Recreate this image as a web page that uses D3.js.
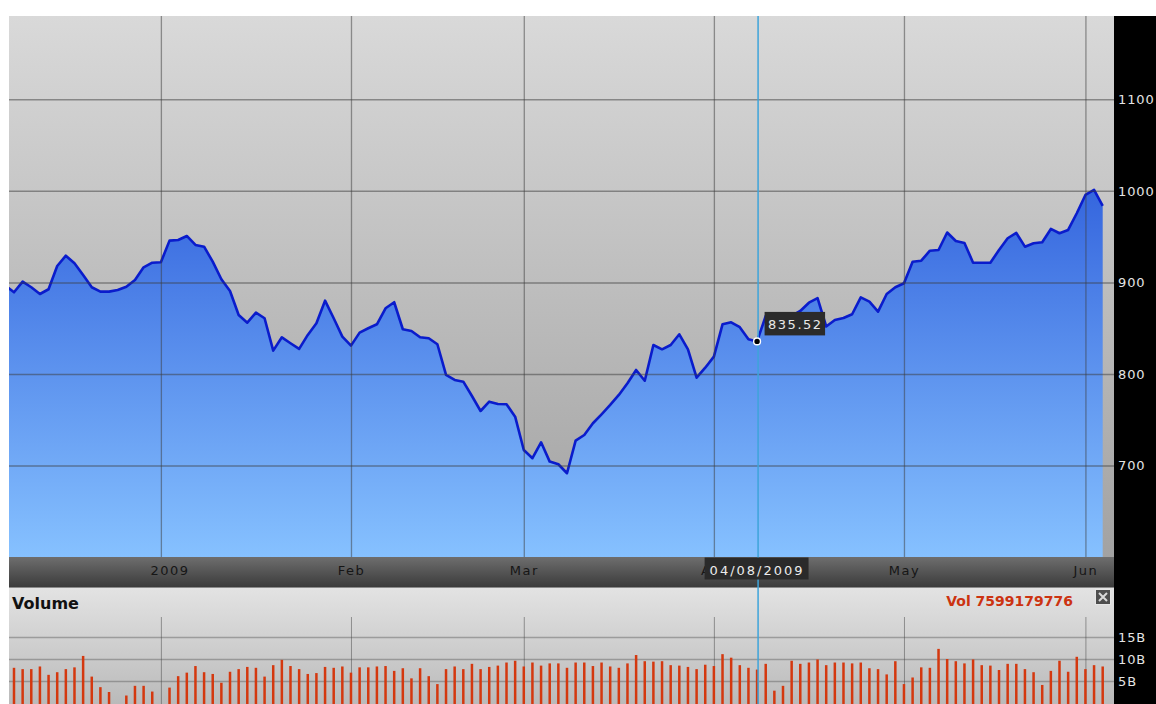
<!DOCTYPE html>
<html>
<head>
<meta charset="utf-8">
<script src="https://cdn.jsdelivr.net/npm/d3@7"></script>
<style>
  html, body { margin: 0; padding: 0; background: #fff; }
  svg { display: block; }
</style>
</head>
<body>
<svg id="chart" width="1156" height="704"></svg>
<script>
// Daily index closes, one per weekday starting 2008-12-08
const closes = [
  896.7, 889.2, 900.8, 894.7, 887.3, 892.5, 917.9, 929.2, 920.9, 908.1,
  894.7, 889.9, 889.9, 891.7, 895.3, 902.6, 916.5, 921.5, 922.0, 945.6,
  946.3, 950.7, 940.9, 939.0, 922.6, 903.4, 890.6, 864.4, 856.0, 866.9,
  860.8, 825.4, 840.0, 833.5, 827.3, 842.6, 855.3, 880.0, 860.8, 840.7,
  830.9, 845.1, 849.9, 854.2, 871.7, 878.3, 848.8, 846.9, 840.0, 839.0,
  832.4, 798.9, 793.4, 791.5, 775.9, 759.5, 769.7, 767.2, 766.9, 753.3,
  716.9, 707.9, 725.3, 704.2, 701.3, 691.5, 727.1, 733.3, 746.1, 755.9,
  766.1, 777.0, 789.8, 804.3, 792.6, 831.6, 826.9, 831.6, 843.3, 826.9,
  795.9, 806.8, 818.9, 854.2, 856.4, 851.0, 837.9, 835.52, 863.3, 861.1,
  864.4, 863.3, 868.8, 877.8, 882.7, 851.8, 858.9, 861.1, 865.2, 883.7,
  878.9, 868.0, 887.3, 894.7, 899.0, 922.6, 923.7, 934.6, 935.4, 954.5,
  945.2, 943.1, 921.5, 921.5, 921.5, 935.4, 948.2, 954.0, 939.0, 942.7,
  943.8, 958.4, 953.7, 957.3, 975.5, 995.5, 1001.0, 983.5
];

// Daily volume in billions of shares (null = market closed)
const volumesB = [
  8.0, 8.0, 7.7, 7.7, 8.3, 6.4, 7.0, 7.7, 8.1, 10.7,
  6.0, 3.6, 2.5, null, 1.7, 3.9, 3.9, 2.6, null, 3.5,
  6.1, 6.9, 8.4, 7.0, 6.6, 4.6, 7.1, 7.7, 8.2, 8.0,
  6.0, 8.6, 9.8, 8.4, 7.7, 6.6, 6.8, 8.2, 8.0, 8.3,
  6.9, 8.1, 8.1, 8.3, 8.4, 7.3, 7.9, 5.6, 7.9, 6.1,
  4.3, 7.7, 8.3, 7.7, 8.9, 7.7, 8.2, 8.5, 9.2, 9.6,
  8.3, 9.2, 8.5, 9.0, 9.0, 8.0, 9.2, 9.2, 8.4, 9.2,
  8.3, 8.0, 9.0, 10.9, 9.5, 9.4, 9.5, 8.6, 8.5, 8.2,
  7.7, 8.7, 8.4, 11.1, 10.3, 8.6, 8.0, 7.599179776, 8.9, 2.8,
  3.9, 9.6, 8.9, 9.2, 9.9, 8.6, 9.2, 9.2, 9.0, 9.2,
  7.9, 7.7, 6.5, 9.5, 4.3, 5.8, 8.1, 8.0, 12.3, 10.0,
  9.5, 9.0, 9.9, 8.6, 8.5, 7.5, 8.9, 8.9, 7.7, 7.0,
  4.1, 7.3, 9.6, 7.1, 10.5, 7.7, 8.6, 8.3
];

const firstDay = "2008-12-08";
const focusDate = "2009-04-08";

const priceTicks = [700, 800, 900, 1000, 1100];
const volumeTicks = [5, 10, 15];
const monthGridDates = ["2009-01-01", "2009-02-02", "2009-03-02", "2009-04-01", "2009-05-01", "2009-06-01"];
const monthLabelDates = ["2009-01-02", "2009-02-02", "2009-03-02", "2009-04-01", "2009-05-01", "2009-06-01"];
const monthLabels = ["2009", "Feb", "Mar", "Apr", "May", "Jun"];

// Weekday calendar for the x axis
const parseDay = d3.utcParse("%Y-%m-%d");
const dayKey = d3.utcFormat("%Y-%m-%d");
const dates = [];
for (let d = parseDay(firstDay); dates.length < closes.length; d = d3.utcDay.offset(d, 1)) {
  const wd = d.getUTCDay();
  if (wd !== 0 && wd !== 6) dates.push(dayKey(d));
}
const rows = dates.map((date, i) => ({ date, close: closes[i], vol: volumesB[i] }));

const FONT = "'DejaVu Sans', Verdana, sans-serif";
const plot = { l: 9, r: 1114, t: 16, b: 557 };
const axisBar = { t: 557, b: 587 };
const vol = { t: 587, top: 615, zero: 703, b: 704 };

const svg = d3.select("#chart");
const defs = svg.append("defs");

function vGrad(id, y1, y2, stops) {
  const g = defs.append("linearGradient").attr("id", id)
    .attr("gradientUnits", "userSpaceOnUse")
    .attr("x1", 0).attr("x2", 0).attr("y1", y1).attr("y2", y2);
  stops.forEach(([o, c]) => g.append("stop").attr("offset", o).attr("stop-color", c));
}
vGrad("bgGrad", plot.t, plot.b, [[0, "#d9d9d9"], [1, "#a2a2a2"]]);
vGrad("areaGrad", 190, plot.b, [[0, "#3566de"], [1, "#86c1ff"]]);
vGrad("axisGrad", axisBar.t, axisBar.b, [[0, "#6e6e6e"], [1, "#3b3b3b"]]);
vGrad("volGrad", vol.t, vol.b, [[0, "#e3e3e3"], [1, "#bababa"]]);

defs.append("clipPath").attr("id", "plotClip").append("rect")
  .attr("x", plot.l).attr("y", plot.t).attr("width", plot.r - plot.l).attr("height", plot.b - plot.t);
defs.append("clipPath").attr("id", "volClip").append("rect")
  .attr("x", plot.l).attr("y", vol.t).attr("width", plot.r - plot.l).attr("height", vol.b - vol.t);

// Scales
const x = d3.scalePoint().domain(dates).range([5.36, 1102.7]);
const y = d3.scaleLinear().domain([600, 1191]).range([plot.b, plot.t]);
const yv = d3.scaleLinear().domain([0, 20]).range([vol.zero, vol.top]);

// ---- Price panel ----
svg.append("rect").attr("x", plot.l).attr("y", plot.t)
  .attr("width", plot.r - plot.l).attr("height", plot.b - plot.t).attr("fill", "url(#bgGrad)");

const priceG = svg.append("g").attr("clip-path", "url(#plotClip)");
priceG.append("path").datum(rows)
  .attr("fill", "url(#areaGrad)")
  .attr("d", d3.area().x(d => x(d.date)).y0(plot.b).y1(d => y(d.close)));

// grid
const gridColor = "rgba(60,60,60,0.5)";
const hGrid = svg.append("g").attr("transform", `translate(${plot.l},0)`)
  .call(d3.axisLeft(y).tickValues(priceTicks).tickSize(-(plot.r - plot.l)).tickFormat(""));
hGrid.select(".domain").remove();
hGrid.selectAll("line").attr("stroke", gridColor).attr("stroke-width", 1.5);

const vGrid = svg.append("g").attr("transform", `translate(0,${plot.b})`)
  .call(d3.axisBottom(x).tickValues(monthGridDates).tickSize(-(plot.b - plot.t)).tickFormat(""));
vGrid.select(".domain").remove();
vGrid.selectAll("line").attr("stroke", gridColor).attr("stroke-width", 1.3);

priceG.append("path").datum(rows)
  .attr("fill", "none").attr("stroke", "#0a1ccc").attr("stroke-width", 2.6)
  .attr("stroke-linejoin", "round")
  .attr("d", d3.line().x(d => x(d.date)).y(d => y(d.close)));

// ---- Date axis bar ----
svg.append("rect").attr("x", plot.l).attr("y", axisBar.t)
  .attr("width", plot.r - plot.l).attr("height", axisBar.b - axisBar.t).attr("fill", "url(#axisGrad)");
const xAxis = svg.append("g").attr("transform", `translate(0,${axisBar.t})`)
  .call(d3.axisBottom(x).tickValues(monthLabelDates).tickSize(0)
    .tickFormat((d, i) => monthLabels[i]));
xAxis.select(".domain").remove();
xAxis.selectAll("text")
  .attr("y", 13).attr("dy", "0.35em")
  .attr("fill", "#161616").style("font-family", FONT).style("font-size", "13px")
  .style("letter-spacing", "1.5px");

// ---- Volume panel ----
svg.append("rect").attr("x", plot.l).attr("y", vol.t)
  .attr("width", plot.r - plot.l).attr("height", vol.b - vol.t).attr("fill", "url(#volGrad)");
svg.append("line").attr("x1", plot.l).attr("x2", plot.r).attr("y1", vol.t + 0.5).attr("y2", vol.t + 0.5)
  .attr("stroke", "#8a8a8a").attr("stroke-width", 1);

const vhGrid = svg.append("g").attr("transform", `translate(${plot.l},0)`)
  .call(d3.axisLeft(yv).tickValues(volumeTicks).tickSize(-(plot.r - plot.l)).tickFormat(""));
vhGrid.select(".domain").remove();
vhGrid.selectAll("line").attr("stroke", "rgba(90,90,90,0.45)").attr("stroke-width", 1.5);

const vvGrid = svg.append("g").attr("transform", `translate(0,${vol.b})`)
  .call(d3.axisBottom(x).tickValues(monthGridDates).tickSize(-(vol.b - 617)).tickFormat(""));
vvGrid.select(".domain").remove();
vvGrid.selectAll("line").attr("stroke", "rgba(70,70,70,0.5)").attr("stroke-width", 1);

svg.append("g").attr("clip-path", "url(#volClip)")
  .selectAll("rect").data(rows.filter(d => d.vol != null)).join("rect")
  .attr("x", d => x(d.date) - 1.25).attr("width", 2.5)
  .attr("y", d => yv(d.vol)).attr("height", d => vol.b - yv(d.vol))
  .attr("fill", "#d4380f");

svg.append("text").attr("x", 12).attr("y", 609)
  .style("font-family", FONT).style("font-size", "16px").style("font-weight", "bold")
  .attr("fill", "#111").text("Volume");

const focus = rows.find(d => d.date === focusDate);
svg.append("text").attr("x", 1073).attr("y", 606).attr("text-anchor", "end")
  .style("font-family", FONT).style("font-size", "14px").style("font-weight", "bold")
  .attr("fill", "#cc3311").text("Vol " + Math.round(focus.vol * 1e9));

// close button
svg.append("rect").attr("x", 1095.5).attr("y", 589.5).attr("width", 15).attr("height", 15)
  .attr("fill", "#4e4e4e").attr("stroke", "#e6e6e6").attr("stroke-width", 1);
svg.append("path").attr("d", "M1099,593 L1107,601 M1107,593 L1099,601")
  .attr("stroke", "#d8d8d8").attr("stroke-width", 2);

// ---- Right value axis panel ----
svg.append("rect").attr("x", plot.r).attr("y", plot.t)
  .attr("width", 1156 - plot.r).attr("height", 704 - plot.t).attr("fill", "#000");

function styleAxisText(g) {
  g.select(".domain").remove();
  g.selectAll("text").attr("fill", "#e4e4e4")
    .style("font-family", FONT).style("font-size", "13px").style("letter-spacing", "0.9px");
}
svg.append("g").attr("transform", `translate(${plot.r},0)`)
  .call(d3.axisRight(y).tickValues(priceTicks).tickSize(0).tickPadding(4).tickFormat(d3.format("d")))
  .call(styleAxisText);
svg.append("g").attr("transform", `translate(${plot.r},0)`)
  .call(d3.axisRight(yv).tickValues(volumeTicks).tickSize(0).tickPadding(4).tickFormat(d => d + "B"))
  .call(styleAxisText);

// ---- Crosshair on the focused day ----
const fx = x(focus.date), fy = y(focus.close);
svg.append("line").attr("x1", fx + 1).attr("x2", fx + 1).attr("y1", plot.t).attr("y2", vol.b)
  .attr("stroke", "#3ea4da").attr("stroke-width", 1.5);

svg.append("circle").attr("cx", fx).attr("cy", fy).attr("r", 3.4)
  .attr("fill", "#000").attr("stroke", "#fff").attr("stroke-width", 1.4);

// value label
const valG = svg.append("g");
const valRect = valG.append("rect").attr("fill", "#2b2b2b");
const valText = valG.append("text").attr("x", fx + 11).attr("y", fy - 12)
  .attr("fill", "#e8e8e8").style("font-family", FONT).style("font-size", "13px")
  .style("letter-spacing", "1.5px").text(d3.format(".2f")(focus.close));
const vw = valText.node().getComputedTextLength();
valRect.attr("x", fx + 7.5).attr("y", fy - 29.5).attr("width", vw + 6).attr("height", 23.5);

// date label on the axis bar
const dateG = svg.append("g");
const dateRect = dateG.append("rect").attr("fill", "#2a2a2a");
const dateText = dateG.append("text").attr("x", fx).attr("y", 575).attr("text-anchor", "middle")
  .attr("fill", "#ececec").style("font-family", FONT).style("font-size", "13px")
  .style("letter-spacing", "2px").text(d3.utcFormat("%m/%d/%Y")(parseDay(focus.date)));
const dw = dateText.node().getComputedTextLength();
dateRect.attr("x", fx - dw / 2 - 5).attr("y", 557.5).attr("width", dw + 9).attr("height", 22);
</script>
</body>
</html>
